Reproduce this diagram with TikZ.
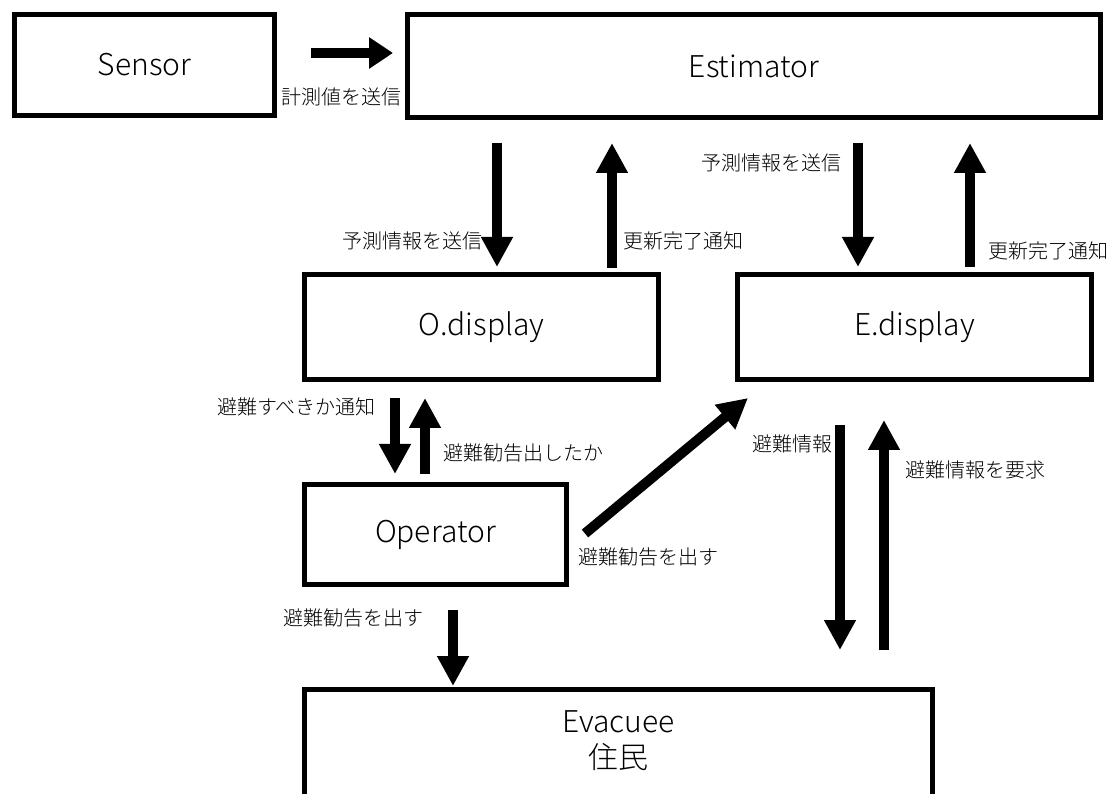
\documentclass[tikz,border=0pt]{standalone}
\usepackage{fontspec}
\setmainfont{Noto Sans CJK JP}[UprightFont={* Light}]
\usetikzlibrary{arrows.meta}
\begin{document}
\begin{tikzpicture}[x=1pt,y=-1pt,
  box/.style={draw,line width=5pt,inner sep=0pt,font=\fontsize{30}{36}\selectfont},
  arr/.style={line width=10pt,-{Triangle[length=30pt,width=30pt]}},
  lbl/.style={inner sep=0pt,font=\fontsize{20}{24}\selectfont}]
\useasboundingbox (0,0) rectangle (1112,794);
\clip (0,0) rectangle (1112,794);
\fill[white] (0,0) rectangle (1112,794);

% components
\node[box,minimum width=260pt,minimum height=101pt] (sensor) at (144.5,65) {Sensor};
\node[box,minimum width=693pt,minimum height=103pt] (estimator) at (754,66) {Estimator};
\node[box,minimum width=354pt,minimum height=105pt] (odisp) at (481.5,327) {O.display};
\node[box,minimum width=354pt,minimum height=105pt] (edisp) at (914.5,327) {E.display};
\node[box,minimum width=262pt,minimum height=100pt] (operator) at (435.5,534.5) {Operator};
\node[box,minimum width=628pt,minimum height=140pt,anchor=north] (evacuee) at (618.5,687) {};
\node[inner sep=0pt,align=center,font=\fontsize{30}{36}\selectfont] (evtext) at (618.5,741) {Evacuee\\住民};

% message flows
\draw[arr,-{Triangle[length=24pt,width=30pt]},shorten <=34pt,shorten >=12pt] (sensor.east |- 0,53) -- (estimator.west |- 0,53);
\draw[arr,shorten <=23pt,shorten >=5pt] (estimator.south -| 497,0) -- (odisp.north -| 497,0);
\draw[arr,shorten <=4pt,shorten >=23pt] (odisp.north -| 612,0) -- (estimator.south -| 612,0);
\draw[arr,shorten <=23pt,shorten >=5pt] (estimator.south -| 858,0) -- (edisp.north -| 858,0);
\draw[arr,shorten <=5pt,shorten >=23pt] (edisp.north -| 970,0) -- (estimator.south -| 970,0);
\draw[arr,shorten <=16pt,shorten >=8pt] (odisp.south -| 395,0) -- (operator.north -| 395,0);
\draw[arr,shorten <=8pt,shorten >=16pt] (operator.north -| 425,0) -- (odisp.south -| 425,0);
\draw[arr] ([xshift=16pt,yshift=1pt]operator.east) -- ([xshift=13pt,yshift=-16pt]edisp.south west);
\draw[arr,shorten <=23pt,shorten >=1pt] (operator.south -| 453,0) -- (evacuee.north -| 453,0);
\draw[arr,shorten <=43pt,shorten >=37pt] (edisp.south -| 840,0) -- (evacuee.north -| 840,0);
\draw[arr,shorten <=37pt,shorten >=38pt] (evacuee.north -| 884,0) -- (edisp.south -| 884,0);

% flow labels
\node[lbl,anchor=west] (l1) at (281,97) {計測値を送信};
\node[lbl,anchor=east] (l2) at (483,241) {予測情報を送信};
\node[lbl,anchor=west] (l3) at (623,241) {更新完了通知};
\node[lbl,anchor=east] (l4) at (842,163) {予測情報を送信};
\node[lbl,anchor=west] (l5) at (988,251) {更新完了通知};
\node[lbl,anchor=west] (l6) at (217,407) {避難すべきか通知};
\node[lbl,anchor=west] (l7) at (443,453) {避難勧告出したか};
\node[lbl,anchor=west] (l8) at (578,557) {避難勧告を出す};
\node[lbl,anchor=west] (l9) at (283,618) {避難勧告を出す};
\node[lbl,anchor=west] (l10) at (752,444) {避難情報};
\node[lbl,anchor=west] (l11) at (905,470) {避難情報を要求};
\end{tikzpicture}
\end{document}
